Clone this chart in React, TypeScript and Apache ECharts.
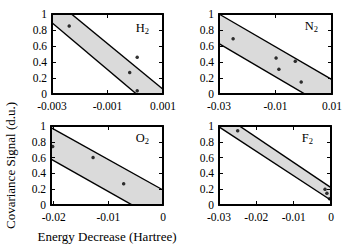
import React, { useEffect, useRef } from "react";
import * as echarts from "echarts";

// H2 panel
const h2XRange = [-0.003, 0.001];
const h2XLabels = [-0.003, -0.001, 0.001];
const h2LowerLine = [0.89, -0.28];
const h2UpperLine = [1.2, 0.06];
const h2PointsX = [-0.00238, -0.0002, 0.00007, 0.00007];
const h2PointsY = [0.85, 0.27, 0.46, 0.04];

// N2 panel
const n2XRange = [-0.03, 0.01];
const n2XLabels = [-0.03, -0.01, 0.01];
const n2LowerLine = [0.63, -0.2];
const n2UpperLine = [1.0, 0.18];
const n2PointsX = [-0.025, -0.0098, -0.0088, -0.003, -0.0009];
const n2PointsY = [0.69, 0.45, 0.31, 0.41, 0.15];

// O2 panel
const o2XRange = [-0.0205, 0];
const o2XLabels = [-0.02, -0.01, 0];
const o2LowerLine = [0.58, -0.22];
const o2UpperLine = [0.98, 0.19];
const o2PointsX = [-0.0202, -0.0128, -0.0072];
const o2PointsY = [0.74, 0.6, 0.27];

// F2 panel
const f2XRange = [-0.03, 0];
const f2XLabels = [-0.03, -0.02, -0.01, 0];
const f2LowerLine = [0.99, 0.06];
const f2UpperLine = [1.175, 0.22];
const f2PointsX = [-0.025, -0.0016, -0.0011, -0.0004];
const f2PointsY = [0.94, 0.2, 0.15, 0.08];

const yTicks = [0, 0.2, 0.4, 0.6, 0.8, 1];
const moleculeNames = ["H", "N", "O", "F"];

const FONT = "Liberation Serif, serif";

const panels = [
  { range: h2XRange, labels: h2XLabels, lower: h2LowerLine, upper: h2UpperLine, px: h2PointsX, py: h2PointsY },
  { range: n2XRange, labels: n2XLabels, lower: n2LowerLine, upper: n2UpperLine, px: n2PointsX, py: n2PointsY },
  { range: o2XRange, labels: o2XLabels, lower: o2LowerLine, upper: o2UpperLine, px: o2PointsX, py: o2PointsY },
  { range: f2XRange, labels: f2XLabels, lower: f2LowerLine, upper: f2UpperLine, px: f2PointsX, py: f2PointsY },
];

const gridPos = [
  { left: 52, top: 14, width: 111, height: 80 },
  { left: 219, top: 14, width: 113, height: 80 },
  { left: 51, top: 126, width: 112, height: 79 },
  { left: 219, top: 126, width: 112, height: 79 },
];
const labelPos = [
  { x: 149, y: 28 },
  { x: 318, y: 26 },
  { x: 149, y: 138 },
  { x: 313, y: 138 },
];

export default function App() {
  const ref = useRef<HTMLDivElement>(null);
  useEffect(() => {
    if (!ref.current) return;
    const chart = echarts.init(ref.current, null, { renderer: "svg" });
    const grid: any[] = [];
    const xAxis: any[] = [];
    const yAxis: any[] = [];
    const series: any[] = [];
    const graphic: any[] = [];
    const lineCol = "#000";
    panels.forEach((p, i) => {
      grid.push({ ...gridPos[i], containLabel: false });
      const axisLine = { show: true, onZero: false, lineStyle: { color: lineCol, width: 2 } };
      const xTick = { show: true, inside: true, length: 4, customValues: p.labels, lineStyle: { color: lineCol, width: 1 } };
      const yTick = { show: true, inside: true, length: 4, customValues: yTicks, lineStyle: { color: lineCol, width: 1 } };
      xAxis.push({
        type: "value",
        gridIndex: i,
        position: "bottom",
        min: p.range[0],
        max: p.range[1],
        z: 10,
        axisLine,
        axisTick: xTick,
        splitLine: { show: false },
        axisLabel: {
          customValues: p.labels,
          color: "#000",
          fontFamily: FONT,
          fontSize: 11.5,
          margin: 6,
          formatter: (v: number) => String(+v.toFixed(4)),
        },
        ...(i === 2
          ? {
              name: "Energy Decrease (Hartree)",
              nameLocation: "middle",
              nameGap: 25,
              nameTextStyle: { color: "#000", fontFamily: FONT, fontSize: 13 },
            }
          : {}),
      });
      xAxis.push({
        type: "value",
        gridIndex: i,
        position: "top",
        min: p.range[0],
        max: p.range[1],
        z: 10,
        axisLine,
        axisTick: xTick,
        splitLine: { show: false },
        axisLabel: { show: false },
      });
      yAxis.push({
        type: "value",
        gridIndex: i,
        position: "left",
        min: 0,
        max: 1,
        z: 10,
        axisLine,
        axisTick: yTick,
        splitLine: { show: false },
        axisLabel: {
          customValues: yTicks,
          color: "#000",
          fontFamily: FONT,
          fontSize: 11.5,
          margin: 5,
          formatter: (v: number) => String(+v.toFixed(1)),
        },
        ...(i === 2
          ? {
              name: "Covariance Signal (d.u.)",
              nameLocation: "middle",
              nameGap: 34,
              nameTextStyle: { color: "#000", fontFamily: FONT, fontSize: 13 },
            }
          : {}),
      });
      yAxis.push({
        type: "value",
        gridIndex: i,
        position: "right",
        min: 0,
        max: 1,
        z: 10,
        axisLine,
        axisTick: yTick,
        splitLine: { show: false },
        axisLabel: { show: false },
      });
      // upper boundary with grey fill down to the axis bottom
      series.push({
        type: "line",
        xAxisIndex: 2 * i,
        yAxisIndex: 2 * i,
        symbol: "none",
        z: 2,
        lineStyle: { color: lineCol, width: 1.4 },
        areaStyle: { color: "#dadada", opacity: 1, origin: "start" },
        data: p.range.map((x, k) => [x, p.upper[k]]),
      });
      // lower boundary with white fill below it (leaves the band grey)
      series.push({
        type: "line",
        xAxisIndex: 2 * i,
        yAxisIndex: 2 * i,
        symbol: "none",
        z: 3,
        lineStyle: { color: lineCol, width: 1.4 },
        areaStyle: { color: "#ffffff", opacity: 1, origin: "start" },
        data: p.range.map((x, k) => [x, p.lower[k]]),
      });
      series.push({
        type: "scatter",
        xAxisIndex: 2 * i,
        yAxisIndex: 2 * i,
        symbolSize: 3.5,
        z: 4,
        itemStyle: { color: "#000" },
        data: p.px.map((x, k) => [x, p.py[k]]),
      });
      graphic.push({
        type: "text",
        x: labelPos[i].x,
        y: labelPos[i].y,
        z: 20,
        style: {
          text: "{m|" + moleculeNames[i] + "}{s|2}",
          align: "right",
          verticalAlign: "middle",
          fill: "#000",
          rich: {
            m: { fontFamily: FONT, fontSize: 12.5, fill: "#000" },
            s: { fontFamily: FONT, fontSize: 8.5, fill: "#000", padding: [5, 0, 0, 0] },
          },
        },
      });
    });
    chart.setOption({
      animation: false,
      backgroundColor: "#fff",
      grid,
      xAxis,
      yAxis,
      series,
      graphic,
    });
    return () => chart.dispose();
  }, []);
  return (
    <div
      ref={ref}
      style={{ position: "fixed", left: 0, top: 0, width: 352, height: 252 }}
    />
  );
}
